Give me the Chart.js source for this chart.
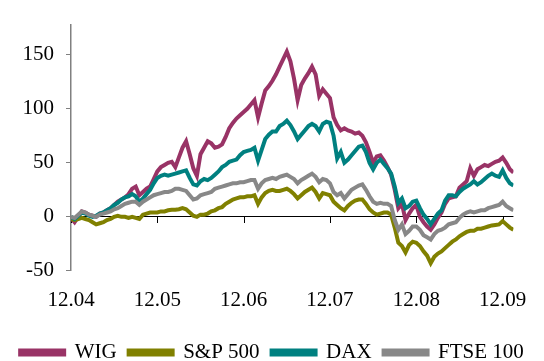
<!DOCTYPE html>
<html lang="en">
<head>
<meta charset="UTF-8">
<title>WIG, S&amp;P 500, DAX, FTSE 100</title>
<script src="https://cdn.jsdelivr.net/npm/chart.js@4/dist/chart.umd.min.js"></script>
<style>
  html, body { margin: 0; padding: 0; background: #fff; }
</style>
</head>
<body>
<canvas id="chart" width="544" height="361"></canvas>
<script>
// months since Dec 2004, half-month steps
const months = [
  0, 0.5, 1, 1.5, 2, 2.5, 3, 3.5, 4, 4.5, 5, 5.5,
  6, 6.5, 7, 7.5, 8, 8.5, 9, 9.5, 10, 10.5, 11, 11.5,
  12, 12.5, 13, 13.5, 14, 14.5, 15, 15.5, 16, 16.5, 17, 17.5,
  18, 18.5, 19, 19.5, 20, 20.5, 21, 21.5, 22, 22.5, 23, 23.5,
  24, 24.5, 25, 25.5, 26, 26.5, 27, 27.5, 28, 28.5, 29, 29.5,
  30, 30.5, 31, 31.5, 32, 32.5, 33, 33.5, 34, 34.5, 35, 35.5,
  36, 36.5, 37, 37.5, 38, 38.5, 39, 39.5, 40, 40.5, 41, 41.5,
  42, 42.5, 43, 43.5, 44, 44.5, 45, 45.5, 46, 46.5, 47, 47.5,
  48, 48.5, 49, 49.5, 50, 50.5, 51, 51.5, 52, 52.5, 53, 53.5,
  54, 54.5, 55, 55.5, 56, 56.5, 57, 57.5, 58, 58.5, 59, 59.5,
  60, 60.5, 61, 61.5
];

const wig = [
  -1, -5, 0, 5, 4, 2, 1, 0, 3, 4, 6, 8,
  11, 14, 16, 18, 21, 26, 28, 20, 23, 26, 28, 35,
  42, 46, 48, 50, 51, 46, 55, 64, 70, 58, 45, 38,
  58, 64, 70, 68, 64, 65, 67, 74, 82, 87, 91, 94,
  97, 100, 104, 108, 92, 105, 117, 121, 126, 132, 139, 146,
  153, 144, 128, 108, 122, 128, 133, 139, 132, 112, 118, 114,
  110, 92, 85, 80, 82, 80, 79, 77, 78, 75, 69, 60,
  50, 56, 57, 52, 46, 39, 25, 8, 12, -3, 3, 8,
  11, 0, -5, -9, -12, -7, -1, 4, 12, 17, 18, 19,
  27, 30, 33, 45, 38, 44, 46, 48, 47, 49, 51, 52,
  55, 50, 44, 41
];

const sp500 = [
  -2, -3, -2, -1, -2, -3, -5, -7, -6, -5, -3, -2,
  0, 1, 0, 0, -1, 0, -1, -2, 2, 3, 4, 4,
  4, 5, 5, 6, 6.5, 6.5, 7, 8, 7, 4, 1, 0,
  2, 2, 3, 5, 6, 8, 9, 12, 14, 16, 17, 18,
  18, 19, 19, 20, 12, 18, 22, 24, 25, 24, 24, 25,
  26, 24, 21, 17, 20, 23, 25, 27, 23, 17, 22, 21,
  20, 14, 11, 8, 6, 10, 13, 15, 16, 16, 12, 7,
  4, 2, 3, 4, 4, 2, -10, -24, -27, -33, -26, -23,
  -24, -27, -32, -36, -43, -37, -34, -32, -29, -26, -23, -21,
  -18, -16, -14, -13, -13, -11, -11, -10, -9, -8, -7.5, -7,
  -4, -7, -10, -12
];

const dax = [
  0, -2, 1, 4, 3, 1, 0, 1, 3, 4, 6, 8,
  11, 13, 16, 18, 19, 21, 19, 14, 17, 21, 25, 31,
  36, 38, 39, 38, 39, 40, 41, 42, 43, 36, 30, 29,
  33, 35, 34, 36, 39, 42, 46, 48, 51, 52, 53, 57,
  60, 61, 62, 64, 52, 62, 72, 76, 79, 79, 84, 86,
  89, 85, 79, 72, 76, 80, 84, 86, 84, 79, 86, 88,
  87, 75, 54, 60, 50, 53, 57, 61, 65, 66, 60, 50,
  44, 50, 53, 49, 45, 40, 28, 13, 17, 8, 10, 14,
  15, 8, 2, -2, -7, -2, 3, 6, 15, 20, 20, 19,
  23, 26, 28, 30, 33, 30, 32, 35, 38, 40, 38, 37,
  43, 36, 31, 29
];

const ftse = [
  0, -1, 2, 5, 4, 2, 1, 0, 2, 3, 4, 5,
  7, 8, 10, 12, 13, 14, 14, 11, 14, 16, 18, 20,
  21, 22, 23, 23, 24, 26, 26, 25, 24, 20, 16, 17,
  20, 21, 22, 23, 26, 27, 28, 29, 30, 31, 31, 32,
  32, 33, 34, 34, 26, 31, 34, 35, 36, 35, 37, 38,
  39, 37, 35, 31, 34, 36, 38, 40, 37, 32, 35, 34,
  31, 23, 20, 22, 17, 21, 25, 27, 29, 30, 25, 19,
  14, 12, 13, 12, 12, 10, -3, -12, -7, -16, -13, -9,
  -9, -12, -17, -19, -21, -16, -13, -12, -10, -7, -6, -5,
  -1, 2, 4, 5, 4, 5, 6, 6, 8, 9, 10, 11,
  14, 10, 8, 6
];

const xTickMonths = [0, 12, 24, 36, 48, 60];
const xTickLabels = ['12.04', '12.05', '12.06', '12.07', '12.08', '12.09'];
const yTicks = [-50, 0, 50, 100, 150];

const seriesNames = ['WIG', 'S&P 500', 'DAX', 'FTSE 100'];
const seriesColors = ['#993366', '#808000', '#008080', '#888888'];
const seriesValues = [wig, sp500, dax, ftse];

const FONT = 'Liberation Serif';

// short tick marks hanging under the zero line
const zeroAxisTicks = {
  id: 'zeroAxisTicks',
  beforeDatasetsDraw(chart) {
    const { ctx, scales: { x, y } } = chart;
    const y0 = Math.round(y.getPixelForValue(0));
    ctx.save();
    ctx.strokeStyle = '#000';
    ctx.lineWidth = 1;
    xTickMonths.forEach(m => {
      const px = Math.round(x.getPixelForValue(m)) + 0.5;
      ctx.beginPath();
      ctx.moveTo(px, y0);
      ctx.lineTo(px, y0 + 6);
      ctx.stroke();
    });
    ctx.restore();
  }
};

const datasets = seriesNames.map((name, i) => ({
  label: name,
  data: months.map((m, j) => ({ x: m, y: seriesValues[i][j] })),
  borderColor: seriesColors[i],
  backgroundColor: seriesColors[i],
  borderWidth: 4,
  pointRadius: 0,
  tension: 0,
  order: seriesNames.length - i
}));

new Chart(document.getElementById('chart'), {
  type: 'line',
  data: { datasets },
  plugins: [zeroAxisTicks],
  options: {
    responsive: false,
    animation: false,
    layout: { padding: { left: 0, right: 0, top: 0, bottom: -12 } },
    scales: {
      x: {
        type: 'linear',
        min: 0,
        max: 61.5,
        afterBuildTicks: s => { s.ticks = xTickMonths.map(v => ({ value: v })); },
        grid: { display: false, drawTicks: false },
        border: { display: false },
        ticks: {
          padding: 17,
          align: 'center',
          maxRotation: 0,
          autoSkip: false,
          color: '#000',
          font: { family: FONT, size: 21 },
          callback: v => xTickLabels[xTickMonths.indexOf(v)]
        }
      },
      y: {
        min: -50,
        max: 178,
        afterBuildTicks: s => { s.ticks = yTicks.map(v => ({ value: v })); },
        afterFit: s => { s.width = 71; },
        grid: {
          color: c => (c.tick && c.tick.value === 0 ? '#000' : 'rgba(0,0,0,0)'),
          lineWidth: 1,
          tickColor: '#808080',
          tickLength: 5
        },
        border: { color: '#808080', width: 1.5 },
        ticks: {
          padding: 12,
          color: '#000',
          font: { family: FONT, size: 21 }
        }
      },
      // empty right-hand spacer so the plot stops where the reference does
      yRight: {
        type: 'linear',
        position: 'right',
        min: 0,
        max: 1,
        afterFit: s => { s.width = 30; },
        grid: { display: false, drawTicks: false },
        border: { display: false },
        ticks: { display: false }
      }
    },
    plugins: {
      tooltip: { enabled: false },
      legend: {
        position: 'bottom',
        labels: {
          boxWidth: 44,
          boxHeight: 4,
          padding: 12,
          color: '#000',
          font: { family: FONT, size: 21 },
          sort: (a, b) => a.datasetIndex - b.datasetIndex
        }
      }
    }
  }
});
</script>
</body>
</html>
